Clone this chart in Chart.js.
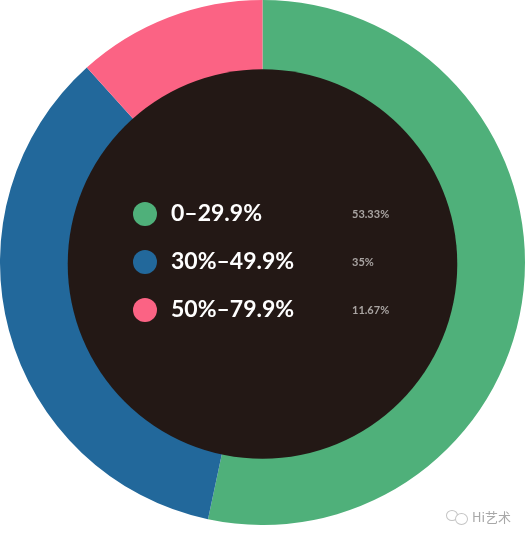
<!DOCTYPE html>
<html>
<head>
<meta charset="utf-8">
<style>
html,body{margin:0;padding:0;background:#fff;width:525px;height:540px;overflow:hidden}
#wrap{position:absolute;left:0;top:0;width:525px;height:525px}
#mark{position:absolute;left:472px;top:508px;font:13px "Noto Sans CJK SC","Noto Sans",sans-serif;color:#a8a8a8;line-height:18px}
.dot{position:absolute;border:1px solid #c4c4c4;border-radius:50%;background:#fff}
</style>
</head>
<body>
<div id="wrap"><canvas id="c" width="525" height="525"></canvas></div>
<div class="dot" style="left:446px;top:510px;width:10px;height:9px"></div>
<div class="dot" style="left:455px;top:513px;width:11px;height:10px"></div>
<div id="mark">Hi艺术</div>
<script src="https://cdn.jsdelivr.net/npm/chart.js@4/dist/chart.umd.min.js"></script>
<script>
const categories = ["0–29.9%", "30%–49.9%", "50%–79.9%"];
const values = [53.33, 35, 11.67];
const valueLabels = ["53.33%", "35%", "11.67%"];
const colors = ["#4fb07a", "#22689b", "#fb6384"];
const holeColor = "#231815";

const centerPanel = {
  id: "centerPanel",
  afterDatasetsDraw(chart) {
    const arc = chart.getDatasetMeta(0).data[0];
    const ctx = chart.ctx;
    ctx.save();
    ctx.fillStyle = holeColor;
    ctx.beginPath();
    ctx.arc(arc.x, arc.y + 1.5, arc.outerRadius * 0.742, 0, Math.PI * 2);
    ctx.fill();
    ctx.textBaseline = "middle";
    categories.forEach((name, i) => {
      const y = 214 + i * 48;
      ctx.fillStyle = colors[i];
      ctx.beginPath();
      ctx.arc(145, y, 12, 0, Math.PI * 2);
      ctx.fill();
      ctx.fillStyle = "#ffffff";
      ctx.textAlign = "left";
      ctx.font = "bold 23px Lato";
      ctx.fillText(name, 171, y);
      ctx.fillStyle = "#a9a4a2";
      ctx.font = "bold 11px Lato";
      ctx.fillText(valueLabels[i], 352, y);
    });
    ctx.restore();
  }
};

new Chart(document.getElementById("c"), {
  type: "doughnut",
  data: {
    labels: categories,
    datasets: [{ data: values, backgroundColor: colors, borderWidth: 0 }]
  },
  options: {
    responsive: false,
    animation: false,
    cutout: "72%",
    layout: { padding: 0 },
    plugins: { legend: { display: false }, tooltip: { enabled: false } }
  },
  plugins: [centerPanel]
});
</script>
</body>
</html>
